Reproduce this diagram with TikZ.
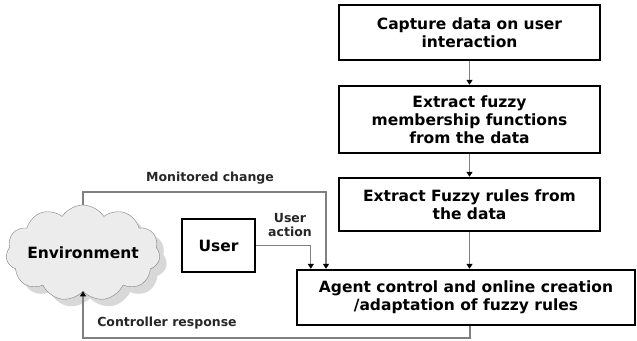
\documentclass[tikz,border=0pt]{standalone}
\usepackage{fontspec}
\setmainfont{DejaVu Sans}
\usetikzlibrary{arrows.meta, positioning, shapes.symbols, shadows}

\begin{document}
\begin{tikzpicture}[x=1pt, y=-1pt,
  stage/.style={draw, line width=2.4pt, minimum width=261pt, align=center, inner sep=2pt, font=\bfseries\fontsize{15.5}{18}\selectfont},
  link/.style={draw=gray, line width=1.2pt, -{Triangle[length=5pt, width=6pt, black]}},
  tag/.style={align=center, font=\bfseries\fontsize{12.5}{14}\selectfont, text=black!85}]
\useasboundingbox (0,0) rectangle (637,340);

\node[stage, minimum height=55pt] (capture) at (469.5,32.5) {Capture data on user\\interaction};
\node[stage, minimum height=67pt] (member) at (469.5,119.5) {Extract fuzzy\\membership functions\\from the data};
\node[stage, minimum height=53pt] (rules) at (469.5,204.5) {Extract Fuzzy rules from\\the data};
\node[stage, minimum width=338pt, minimum height=55pt] (agent) at (466,297.5) {Agent control and online creation\\/adaptation of fuzzy rules};
\node[draw, line width=1.2pt, minimum width=73pt, minimum height=53pt, font=\bfseries\fontsize{15.5}{18}\selectfont] (user) at (218.5,245.5) {User};
\node[cloud, cloud puffs=11, cloud puff arc=115, aspect=1.6, draw=gray, fill=gray!15, inner sep=0pt,
      minimum width=154pt, minimum height=96pt, drop shadow={shadow xshift=7pt, shadow yshift=-7pt, fill=gray!60}] (env) at (83,253) {};
\node[font=\bfseries\fontsize{15.5}{18}\selectfont] (envtext) at (env.center) {Environment};

\coordinate (mon) at (326,192);
\coordinate (ret) at (470,338);

\draw[link] (capture) -- (member);
\draw[link] (member) -- (rules);
\draw[link] (rules.south) -- (rules.south |- agent.north);
\draw[link] (env.north) -- (env.north |- mon) -- (mon) -- (mon |- agent.north);
\draw[link] (user.east) -| ([xshift=15pt]agent.north west);
\draw[link] (agent.south -| ret) -- (ret) -| (env.south);

\node[tag] (montag) at (210,178) {Monitored change};
\node[tag] (acttag) at (290,225) {User\\action};
\node[tag] (restag) at (167,323) {Controller response};
\end{tikzpicture}
\end{document}
